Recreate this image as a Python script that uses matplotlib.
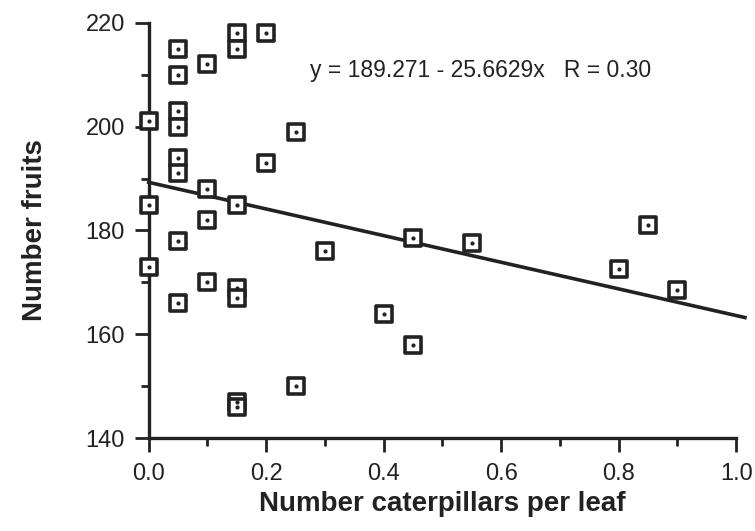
import numpy as np
import matplotlib
matplotlib.use('Agg')
import matplotlib.pyplot as plt
from matplotlib.ticker import MultipleLocator

plt.rcParams['font.family'] = ['Liberation Sans', 'DejaVu Sans']

# caterpillars per leaf vs number of fruits
caterpillars = [0.0, 0.0, 0.0,
                0.05, 0.05, 0.05, 0.05, 0.05, 0.05, 0.05, 0.05,
                0.10, 0.10, 0.10, 0.10,
                0.15, 0.15, 0.15, 0.15, 0.15, 0.15, 0.15,
                0.20, 0.20, 0.25, 0.25, 0.30, 0.40, 0.45, 0.45,
                0.55, 0.80, 0.85, 0.90]
fruits = [201, 185, 173,
          215, 210, 203, 200, 194, 191, 178, 166,
          212, 188, 182, 170,
          218, 215, 185, 169, 167, 147, 146,
          218, 193, 199, 150, 176, 164, 178.5, 158,
          177.5, 172.5, 181, 168.5]
intercept = 189.271
slope = -25.6629
fit_text = 'y = 189.271 - 25.6629x   R = 0.30'

fig = plt.figure(figsize=(7.55, 5.31), dpi=100)
ax = fig.add_axes([0.197, 0.175, 0.778, 0.782])

ink = '#222222'
xl = np.array([0.0, 1.015])
ax.plot(xl, intercept + slope * xl, color=ink, lw=2.6, clip_on=False, zorder=2)
ax.scatter(caterpillars, fruits, marker='s', s=120, facecolor='white',
           edgecolor=ink, linewidths=2.6, clip_on=False, zorder=3)
ax.scatter(caterpillars, fruits, marker='o', s=4, color=ink, clip_on=False, zorder=4)

ax.text(0.275, 209.6, fit_text, fontsize=16.5, color=ink, va='baseline')

ax.set_xlim(0, 1.0)
ax.set_ylim(140, 220)
ax.xaxis.set_major_locator(MultipleLocator(0.2))
ax.xaxis.set_minor_locator(MultipleLocator(0.1))
ax.yaxis.set_major_locator(MultipleLocator(20))
ax.yaxis.set_minor_locator(MultipleLocator(10))
ax.set_xticks(np.arange(0, 1.01, 0.2))
ax.set_xticklabels(['0.0', '0.2', '0.4', '0.6', '0.8', '1.0'])

for s in ['top', 'right']:
    ax.spines[s].set_visible(False)
for s in ['left', 'bottom']:
    ax.spines[s].set_linewidth(2.4)
    ax.spines[s].set_color(ink)

ax.tick_params(which='major', direction='out', length=10, width=2, colors=ink,
               labelsize=17)
ax.tick_params(axis='x', which='major', pad=8)
ax.tick_params(axis='y', which='major', pad=7)
ax.tick_params(which='minor', direction='out', length=6, width=2, colors=ink)

ax.set_xlabel('Number caterpillars per leaf', fontsize=20, fontweight='bold',
              color=ink, labelpad=4)
ax.set_ylabel('Number fruits', fontsize=20, fontweight='bold', color=ink, labelpad=27)

plt.savefig('out.png', dpi=100)
